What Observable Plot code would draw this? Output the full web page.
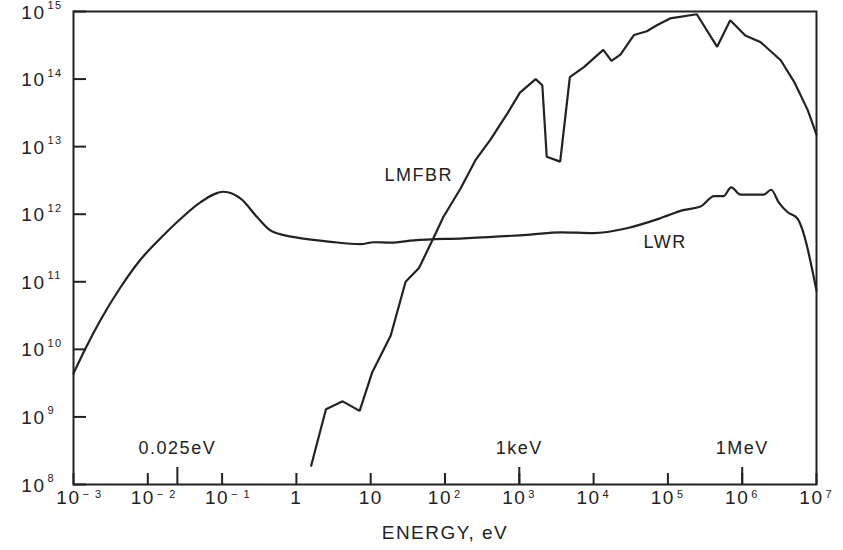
<!DOCTYPE html>
<html>
<head>
<meta charset="utf-8">
<script src="https://cdn.jsdelivr.net/npm/d3@7"></script>
<script src="https://cdn.jsdelivr.net/npm/@observablehq/plot@0.6"></script>
<style>
  body { margin: 0; background: #fff; }
</style>
</head>
<body>
<div id="chart"></div>
<script>
// ---- Data ----
const lwrEnergy = [1e-3, 1.45e-3, 2.3e-3, 4.3e-3, 7.9e-3, 0.0148, 0.0275, 0.051, 0.105, 0.178, 0.295, 0.447, 0.68,
  1.02, 2.9, 7.2, 11, 18.6, 38, 178, 1410, 3550, 1e4, 2.8e4, 7.9e4, 1.6e5, 2.75e5, 4.2e5, 5.6e5, 7.1e5, 9.5e5,
  1.95e6, 2.45e6, 3.1e6, 4.1e6, 5.5e6, 1e7];
const lwrFlux = [4.4e9, 1.03e10, 2.7e10, 8.3e10, 2.1e11, 4.4e11, 8.5e11, 1.5e12, 2.15e12, 1.7e12, 9.1e11, 5.75e11, 4.9e11,
  4.5e11, 3.9e11, 3.6e11, 3.85e11, 3.8e11, 4.1e11, 4.4e11, 5.0e11, 5.4e11, 5.25e11, 6.2e11, 8.7e11, 1.15e12, 1.3e12, 1.85e12, 1.85e12, 2.5e12, 1.95e12,
  1.95e12, 2.3e12, 1.5e12, 1.07e12, 8.7e11, 7.4e10];

const lmfbrEnergy = [1.58, 2.5, 4.2, 7.1, 10.5, 18.6, 29.5, 44.7, 71, 95, 162, 257, 407, 692, 1020, 1660, 2040, 2340, 3550,
  4790, 7400, 1.35e4, 1.74e4, 2.3e4, 3.5e4, 5.2e4, 7.2e4, 1.07e5, 2.45e5, 4.6e5, 6.9e5, 1.1e6, 1.78e6, 3.3e6, 5.0e6, 7.6e6, 1e7];
const lmfbrFlux = [1.9e8, 1.3e9, 1.7e9, 1.23e9, 4.6e9, 1.6e10, 1.0e11, 1.6e11, 4.6e11, 9.1e11, 2.4e12, 6.3e12, 1.26e13, 3.1e13, 6.3e13, 1.0e14, 8.1e13, 7.1e12, 6.0e12,
  1.07e14, 1.5e14, 2.7e14, 1.86e14, 2.3e14, 4.5e14, 5.1e14, 6.3e14, 7.9e14, 9.1e14, 3.0e14, 7.4e14, 4.4e14, 3.5e14, 1.9e14, 9.1e13, 3.5e13, 1.5e13];

const xTickValues = [1e-3, 1e-2, 1e-1, 1, 10, 1e2, 1e3, 1e4, 1e5, 1e6, 1e7];
const xTickBase   = ["10", "10", "10", "1", "10", "10", "10", "10", "10", "10", "10"];
const xTickExp    = ["\u2212 3", "\u2212 2", "\u2212 1", "", "", "2", "3", "4", "5", "6", "7"];

const yTickValues = [1e8, 1e9, 1e10, 1e11, 1e12, 1e13, 1e14, 1e15];
const yTickBase   = ["10", "10", "10", "10", "10", "10", "10", "10"];
const yTickExp    = ["8", "9", "10", "11", "12", "13", "14", "15"];

const markerEnergies = [0.025, 1e3, 1e6];
const markerLabels   = ["0.025eV", "1keV", "1MeV"];

const seriesNames  = ["LMFBR", "LWR"];
const seriesLabelEnergy = [128, 4.7e4];
const seriesLabelFlux   = [3.8e12, 3.9e11];

const xAxisTitle = "ENERGY, eV";

// ---- Tables built from the arrays ----
const lwr = lwrEnergy.map((e, i) => ({energy: e, flux: lwrFlux[i]}));
const lmfbr = lmfbrEnergy.map((e, i) => ({energy: e, flux: lmfbrFlux[i]}));
const xTicks = xTickValues.map((v, i) => ({v, base: xTickBase[i], exp: xTickExp[i]}));
const yTicks = yTickValues.map((v, i) => ({v, base: yTickBase[i], exp: yTickExp[i]}));
const markers = markerEnergies.map((v, i) => ({v, label: markerLabels[i]}));
const seriesLabels = seriesNames.map((n, i) => ({name: n, energy: seriesLabelEnergy[i], flux: seriesLabelFlux[i]}));

const ink = "#222";
const W = 843, H = 550, mt = 11, mr = 27, mb = 66, ml = 73;
const frameW = W - ml - mr, frameH = H - mt - mb;

const chart = Plot.plot({
  width: W,
  height: H,
  marginTop: mt,
  marginRight: mr,
  marginBottom: mb,
  marginLeft: ml,
  x: {type: "log", domain: [1e-3, 1e7], axis: null},
  y: {type: "log", domain: [1e8, 1e15], axis: null},
  style: {
    fontFamily: "'Liberation Sans', Arial, sans-serif",
    fontSize: "19px",
    color: ink,
    background: "#fff",
    letterSpacing: "1.5px",
    overflow: "visible"
  },
  marks: [
    Plot.frame({stroke: ink, strokeWidth: 2}),

    // inward ticks (fixed pixel length via insets)
    Plot.ruleY(yTicks, {y: "v", insetRight: frameW - 13, stroke: ink, strokeWidth: 2}),
    Plot.ruleX(xTicks, {x: "v", insetTop: frameH - 11, stroke: ink, strokeWidth: 2}),
    Plot.ruleX(markers, {x: "v", insetTop: frameH - 17, stroke: ink, strokeWidth: 2}),

    // y tick labels: 10 with superscript
    Plot.text(yTicks, {y: "v", frameAnchor: "left", text: "base", textAnchor: "end", dx: -28, dy: 1, fill: ink, fontSize: 19}),
    Plot.text(yTicks, {y: "v", frameAnchor: "left", text: "exp", textAnchor: "start", dx: -26, dy: -6, fill: ink, fontSize: 11}),

    // x tick labels
    Plot.text(xTicks.filter(d => d.exp === ""), {x: "v", frameAnchor: "bottom", text: "base", textAnchor: "middle", dy: 19, fill: ink, fontSize: 19}),
    Plot.text(xTicks.filter(d => d.exp !== ""), {x: "v", frameAnchor: "bottom", text: "base", textAnchor: "end", dx: 7, dy: 19, fill: ink, fontSize: 19}),
    Plot.text(xTicks.filter(d => d.exp !== ""), {x: "v", frameAnchor: "bottom", text: "exp", textAnchor: "start", dx: 9, dy: 13, fill: ink, fontSize: 11}),

    // marker labels above the long ticks
    Plot.text(markers, {x: "v", frameAnchor: "bottom", text: "label", dy: -31, fill: ink, fontSize: 18}),

    // axis title
    Plot.text([xAxisTitle], {frameAnchor: "bottom", text: d => d, dy: 54, fill: ink, fontSize: 19}),

    // curves
    Plot.line(lwr, {x: "energy", y: "flux", stroke: ink, strokeWidth: 2.2, curve: "monotone-x"}),
    Plot.line(lmfbr, {x: "energy", y: "flux", stroke: ink, strokeWidth: 2.2, curve: "linear", strokeLinejoin: "miter"}),

    // series labels
    Plot.text(seriesLabels.filter(d => d.name === "LMFBR"), {x: "energy", y: "flux", text: "name", textAnchor: "end", fill: ink, fontSize: 18}),
    Plot.text(seriesLabels.filter(d => d.name === "LWR"), {x: "energy", y: "flux", text: "name", textAnchor: "start", fill: ink, fontSize: 18})
  ]
});

document.getElementById("chart").appendChild(chart);
</script>
</body>
</html>
